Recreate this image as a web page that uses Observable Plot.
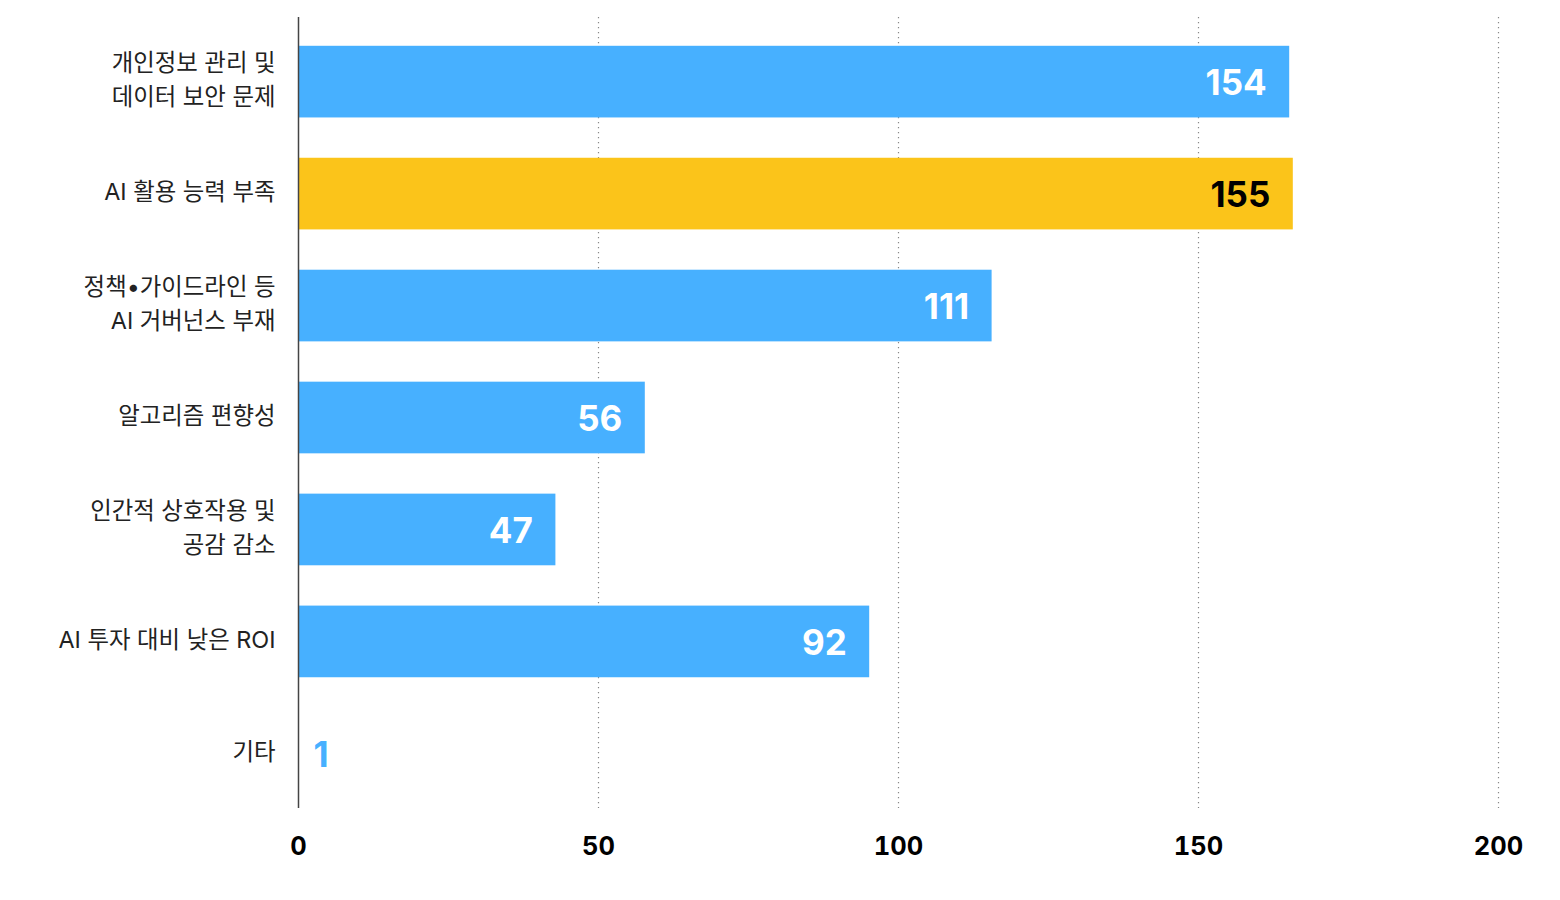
<!DOCTYPE html>
<html>
<head>
<meta charset="utf-8">
<script src="https://cdn.jsdelivr.net/npm/d3@7"></script>
<script src="https://cdn.jsdelivr.net/npm/@observablehq/plot@0.6"></script>
<style>
  html, body { margin: 0; padding: 0; background: #fff; }
  #chart { width: 1560px; height: 900px; }
</style>
</head>
<body>
<div id="chart"></div>
<script>
// Categories (top to bottom)
const categories = [
  "개인정보 관리 및\n데이터 보안 문제",
  "AI 활용 능력 부족",
  "정책•가이드라인 등\nAI 거버넌스 부재",
  "알고리즘 편향성",
  "인간적 상호작용 및\n공감 감소",
  "AI 투자 대비 낮은 ROI",
  "기타"
];
// Value labels printed on the bars
const valueLabels = [154, 155, 111, 56, 47, 92, 1];
// Bar lengths as drawn in the picture (read against the x axis)
const barLengths = [165.2, 165.8, 115.6, 57.8, 42.9, 95.2, 0];
// Highlighted category
const highlighted = ["AI 활용 능력 부족"];
// X axis ticks
const xTicks = [0, 50, 100, 150, 200];
const gridTicks = [50, 100, 150, 200];

const BLUE = "#47B0FF";
const YELLOW = "#FBC41A";

const data = categories.map((c, i) => ({
  cat: c,
  len: barLengths[i],
  label: valueLabels[i],
  hi: highlighted.includes(c)
}));

const inside = data.filter(d => d.len > 10);
const outside = data.filter(d => d.len <= 10);

const chart = Plot.plot({
  width: 1560,
  height: 900,
  marginTop: 17,
  marginBottom: 92,
  marginLeft: 298,
  marginRight: 62,
  style: { fontFamily: "Inter, 'Noto Sans CJK KR', sans-serif", background: "#fff" },
  x: { domain: [0, 200], ticks: xTicks, label: null },
  y: { type: "band", domain: categories, paddingInner: 0.36, paddingOuter: 0.15, insetTop: 12, insetBottom: 2, round: false, label: null },
  color: { type: "identity" },
  marks: [
    Plot.gridX(gridTicks, { stroke: "#888", strokeOpacity: 1, strokeWidth: 1.2, strokeDasharray: "1.2,3.8" }),
    Plot.barX(data, { x: "len", y: "cat", fill: d => d.hi ? YELLOW : BLUE }),
    Plot.text(inside, {
      x: "len", y: "cat", text: d => String(d.label),
      textAnchor: "end", dx: -23, dy: 1.5, fontSize: 35, fontWeight: 700,
      fill: d => d.hi ? "#000" : "#fff"
    }),
    Plot.text(outside, {
      x: "len", y: "cat", text: d => String(d.label),
      textAnchor: "start", dx: 15, dy: 1.5, fontSize: 35, fontWeight: 700,
      fill: BLUE
    }),
    Plot.ruleX([0], { stroke: "#444", strokeWidth: 1.5 }),
    Plot.axisX(xTicks, { tickSize: 0, tickPadding: 28, fontSize: 25.5, fontWeight: 700, fill: "#000", label: null }),
    Plot.axisY({ tickSize: 0, tickPadding: 23, dy: -5, fontSize: 23.4, fill: "#222", lineHeight: 1.45, label: null })
  ]
});

document.getElementById("chart").appendChild(chart);
</script>
</body>
</html>
